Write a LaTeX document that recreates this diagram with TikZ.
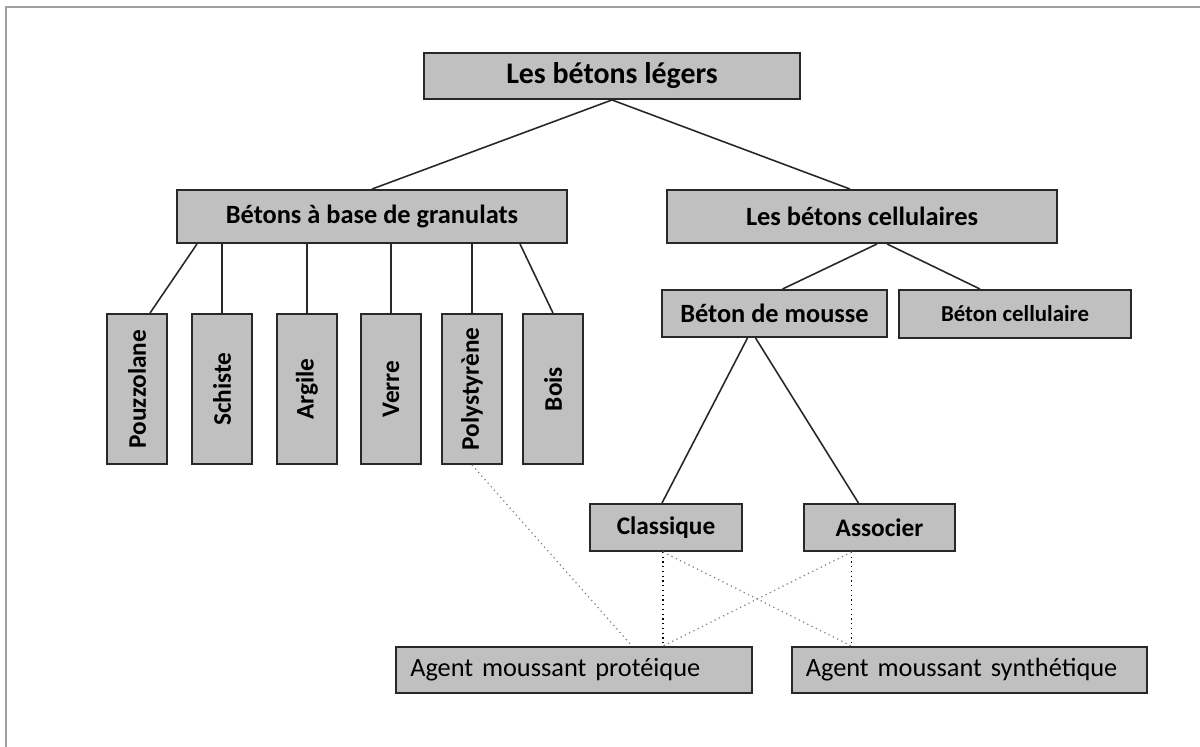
\documentclass[tikz,border=0pt]{standalone}
\usepackage{fontspec}
\setmainfont{Carlito}
\usepackage{tikz}
\usetikzlibrary{positioning,calc}
\usepackage{xcolor}
\definecolor{boxgray}{RGB}{192,192,192}
\definecolor{framegray}{RGB}{160,160,160}
\definecolor{linegray}{RGB}{40,40,40}
\newcommand{\toptxt}{\fontsize{17}{20}\selectfont\bfseries}
\newcommand{\bigtxt}{\fontsize{15}{18}\selectfont\bfseries}
\newcommand{\smalltxt}{\fontsize{14.4}{17}\selectfont\bfseries}
\newcommand{\midtxt}{\fontsize{13}{15}\selectfont\bfseries}

\begin{document}
\begin{tikzpicture}[x=0.02cm, y=-0.02cm,
    box/.style={rectangle, draw=linegray, fill=boxgray, line width=1.1pt, inner sep=0pt, font=\bigtxt},
    vbox/.style={box, font=\smalltxt, minimum width=1.2cm, minimum height=3cm},
    agent/.style={box, font=\fontsize{15}{18}\selectfont, minimum height=0.92cm, text width=6.55cm, inner xsep=0.28cm, align=left},
    link/.style={draw=linegray, line width=0.9pt},
    dots/.style={black, dotted, line width=0.7pt},
    gdots/.style={gray, dotted, line width=0.7pt}]

    \useasboundingbox (0,0) rectangle (1200,747);
    \draw[framegray, line width=1.2pt] (6,747) -- (6,7) -- (1200,7);

    % top level
    \node[box, font=\toptxt, minimum width=7.52cm, minimum height=0.92cm] (leger) at (612,76) {Les bétons légers};

    % second level
    \node[box, minimum width=7.8cm, minimum height=1.06cm] (gran) at (372,216.5) {Bétons à base de granulats};
    \node[box, minimum width=7.8cm, minimum height=1.06cm] (cell) at (862,216.5) {Les bétons cellulaires};

    \draw[link] (leger.south) -- (gran.north);
    \draw[link] (leger.south) -- ($(cell.north)+(-12,0)$);

    % granulats
    \foreach \n/\xc/\lbl in {pz/137/Pouzzolane, sch/222/Schiste, arg/307/Argile,
                             ver/391/Verre, pol/472/Polystyrène, bois/553/Bois} {
        \node[vbox] (\n) at (\xc,389) {\rotatebox{90}{\lbl}};
    }
    \draw[link] ($(gran.south)+(-175,0)$) -- ($(pz.north)+(13,0)$);
    \foreach \n in {sch,arg,ver,pol} {
        \draw[link] (gran.south -| \n.north) -- (\n.north);
    }
    \draw[link] ($(gran.south)+(148,0)$) -- (bois.north);

    % cellulaires
    \node[box, minimum width=4.5cm, minimum height=0.94cm] (mousse) at (774.5,313.5) {Béton de mousse};
    \node[box, font=\midtxt, minimum width=4.64cm, minimum height=0.96cm] (bcell) at (1015,314) {Béton cellulaire};

    \draw[link] ($(cell.south)+(15,0)$) -- ($(mousse.north)+(8,0)$);
    \draw[link] ($(cell.south)+(25,0)$) -- ($(bcell.north)+(-35,0)$);

    \node[box, font=\smalltxt, minimum width=3.04cm, minimum height=0.94cm] (classique) at (666,527.5) {Classique};
    \node[box, font=\smalltxt, minimum width=3.02cm, minimum height=0.94cm] (associer) at (879.5,527.5) {Associer};

    \draw[link] ($(mousse.south)+(-27,0)$) -- ($(classique.north)+(-4,0)$);
    \draw[link] ($(mousse.south)+(-19,0)$) -- ($(associer.north)+(-21,0)$);

    % agents moussants
    \node[agent] (prot) at (574,670) {Agent moussant protéique};
    \node[agent] (synth) at (969.5,670) {Agent moussant synthétique};

    \coordinate (cb) at ($(classique.south)+(-3,0)$);
    \coordinate (ab) at ($(associer.south)+(-28,0)$);
    \coordinate (pt) at (cb |- prot.north);
    \coordinate (st) at (ab |- synth.north);

    \draw[gdots] (pol.south) -- ($(prot.north)+(58,0)$);
    \draw[dots] (cb) -- (pt);
    \draw[dots] (ab) -- (st);
    \draw[gdots] (cb) -- (st);
    \draw[gdots] (ab) -- (pt);
\end{tikzpicture}
\end{document}
